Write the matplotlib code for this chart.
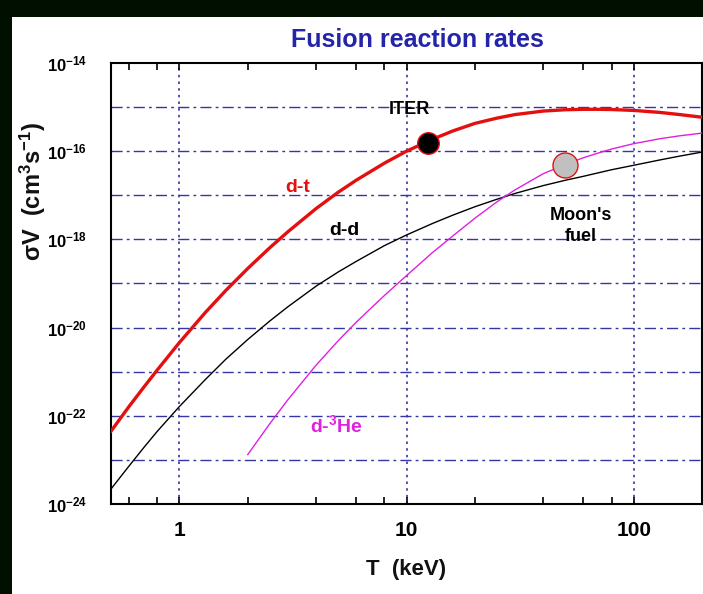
import matplotlib
matplotlib.use("Agg")
import matplotlib.pyplot as plt
from matplotlib.patches import Rectangle
from matplotlib.ticker import FixedLocator, FixedFormatter, NullFormatter

plt.rcParams['font.family'] = ['Liberation Sans', 'DejaVu Sans']
plt.rcParams['font.weight'] = 'bold'
plt.rcParams['mathtext.fontset'] = 'custom'
plt.rcParams['mathtext.rm'] = 'Liberation Sans:bold'
plt.rcParams['mathtext.it'] = 'Liberation Sans:bold'
plt.rcParams['mathtext.bf'] = 'Liberation Sans:bold'

# ---- data (T in keV, sigma*v in cm^3/s) ----
T_dt = [0.5, 0.6, 0.7, 0.8, 1.0, 1.3, 1.6, 2.0, 2.5, 3.0, 4.0, 5.0, 6.0, 8.0,
        10, 13, 16, 20, 25, 30, 40, 50, 60, 70, 80, 100, 130, 160, 200]
sv_dt = [4.47e-23, 1.62e-22, 4.57e-22, 1.10e-21, 4.57e-21, 2.19e-20, 6.92e-20,
         2.19e-19, 6.46e-19, 1.48e-18, 5.01e-18, 1.17e-17, 2.19e-17, 5.37e-17,
         1.0e-16, 1.86e-16, 2.88e-16, 4.27e-16, 5.62e-16, 6.76e-16, 8.13e-16,
         8.71e-16, 8.91e-16, 8.91e-16, 8.81e-16, 8.41e-16, 7.59e-16, 6.76e-16,
         5.89e-16]

T_dd = [0.5, 0.6, 0.7, 0.8, 1.0, 1.3, 1.6, 2.0, 2.5, 3.0, 4.0, 5.0, 6.0, 8.0,
        10, 13, 16, 20, 25, 30, 40, 50, 60, 70, 80, 100, 130, 160, 200]
sv_dd = [2.19e-24, 7.24e-24, 1.95e-23, 4.47e-23, 1.62e-22, 6.61e-22, 1.91e-21,
         5.37e-21, 1.41e-20, 2.95e-20, 8.71e-20, 1.82e-19, 3.16e-19, 7.24e-19,
         1.26e-18, 2.29e-18, 3.55e-18, 5.50e-18, 8.13e-18, 1.10e-17, 1.66e-17,
         2.19e-17, 2.69e-17, 3.24e-17, 3.80e-17, 4.79e-17, 6.31e-17, 7.76e-17,
         9.55e-17]

T_dhe = [2.0, 2.5, 3.0, 4.0, 5.0, 6.0, 8.0, 10, 13, 16, 20, 25, 30, 40, 50, 60,
         70, 80, 100, 130, 160, 200]
sv_dhe = [1.32e-23, 6.61e-23, 2.29e-22, 1.41e-21, 5.01e-21, 1.32e-20, 5.37e-20,
          1.51e-19, 5.01e-19, 1.20e-18, 3.02e-18, 7.08e-18, 1.32e-17, 3.09e-17,
          5.01e-17, 7.08e-17, 9.12e-17, 1.12e-16, 1.48e-16, 1.91e-16, 2.24e-16,
          2.57e-16]

iter_T, iter_sv = [12.4], [1.55e-16]
moon_T, moon_sv = [50], [4.9e-17]

x_major = [1, 10, 100]
x_major_labels = ['1', '10', '100']
x_minor = [0.6, 0.8, 2, 4, 6, 8, 20, 40, 60, 80]
y_exps = list(range(-24, -13))
y_labels = [r'$10^{%d}$' % e if e % 2 == 0 else '' for e in y_exps]

W, H = 703, 594
fig = plt.figure(figsize=(W / 100, H / 100), dpi=100)
fig.patch.set_facecolor('#000f00')
fig.patches.append(Rectangle((12 / W, 0), 1 - 12 / W, 1 - 17 / H,
                             transform=fig.transFigure, facecolor='white',
                             edgecolor='none', zorder=-10))

ax = fig.add_axes([111 / W, 1 - 504 / H, (702 - 111) / W, (504 - 63) / H])
ax.set_zorder(1)
ax.set_facecolor('white')
ax.set_xscale('log')
ax.set_yscale('log')
ax.set_xlim(0.5, 200)
ax.set_ylim(1e-24, 1e-14)

gridc = '#3535a5'
for e in y_exps[1:-1]:
    ax.axhline(10.0 ** e, color=gridc, lw=1.0, ls=(0, (8, 3, 2, 3)), zorder=1)
for xv in x_major:
    ax.axvline(xv, color=gridc, lw=1.2, ls=(0, (1.5, 2.5)), zorder=1)

ax.plot(T_dd, sv_dd, color='black', lw=1.0, zorder=3)
ax.plot(T_dhe, sv_dhe, color='#e020e0', lw=1.0, zorder=3)
ax.plot(T_dt, sv_dt, color='#e41010', lw=2.4, zorder=4)
ax.plot(iter_T, iter_sv, 'o', ms=15.5, mfc='black', mec='#e41010', mew=1.0, zorder=5)
ax.plot(moon_T, moon_sv, 'o', ms=18, mfc='#c0c0c0', mec='#e41010', mew=1.0, zorder=5)

ax.xaxis.set_major_locator(FixedLocator(x_major))
ax.xaxis.set_major_formatter(FixedFormatter(x_major_labels))
ax.xaxis.set_minor_locator(FixedLocator(x_minor))
ax.xaxis.set_minor_formatter(NullFormatter())
ax.yaxis.set_major_locator(FixedLocator([10.0 ** e for e in y_exps]))
ax.yaxis.set_major_formatter(FixedFormatter(y_labels))
ax.yaxis.set_minor_locator(FixedLocator([]))

ax.tick_params(axis='x', which='both', direction='in', top=True, bottom=True,
               length=5, width=1.2, labelsize=15, pad=12)
ax.tick_params(axis='y', which='both', direction='in', left=True, right=False,
               length=0, labelsize=12, pad=17)
for lab in ax.get_xticklabels() + ax.get_yticklabels():
    lab.set_fontweight('bold')
for sp in ax.spines.values():
    sp.set_linewidth(1.5)

def ftxt(px, py, s, **kw):
    fig.text(px / W, 1 - py / H, s, ha='center', va='center', fontweight='bold',
             zorder=5, **kw)

ftxt(417, 40, 'Fusion reaction rates', fontsize=18, color='#2424a8')
ftxt(406, 569, 'T  (keV)', fontsize=16, color='#111111')
ftxt(33, 192, r'σV  (cm$^{3}$s$^{-1}$)', fontsize=17, rotation=90, color='#111111')
ftxt(298, 187, 'd-t', fontsize=14, color='#e41010')
ftxt(344, 231, 'd-d', fontsize=14, color='black')
ftxt(409, 110, 'ITER', fontsize=13, color='black')
ftxt(581, 226, "Moon's\nfuel", fontsize=13, color='black', linespacing=1.3)
ftxt(336, 425, r'd-$^{3}$He', fontsize=14, color='#e020e0')

fig.savefig('out.png', dpi=100, facecolor=fig.get_facecolor())
